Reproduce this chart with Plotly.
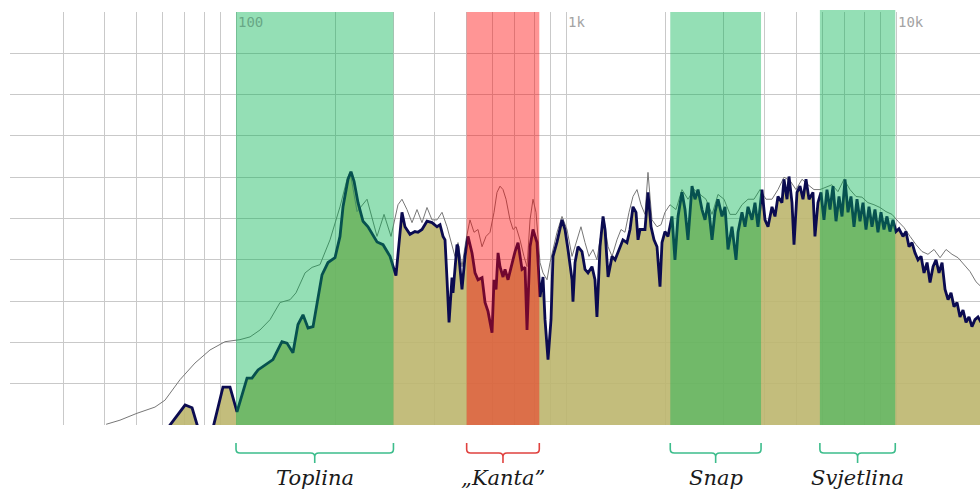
import math
import plotly.graph_objects as go

# Spectrum levels (dB above the floor of the plot) against frequency in Hz
navy_freq = [62.2, 70.1, 73.6, 76.7, 80.6, 83.4, 85.2, 91.3, 95.9, 100.7, 108.0, 111.8, 116.6, 122.4, 129.4,
             137.8, 142.7, 148.8, 154.1, 159.6, 165.3, 171.2, 176.0, 182.2, 190.0, 199.5, 206.6, 211.0, 218.5,
             223.1, 227.9, 234.3, 242.6, 251.2, 267.5, 279.0, 292.9, 305.3, 318.4, 325.1, 336.7, 348.6, 356.0,
             366.1, 379.1, 392.6, 406.6, 415.2, 424.0, 429.9, 436.0, 442.1, 451.4, 454.5, 467.4, 470.7, 484.0,
             494.3, 504.7, 519.0, 530.0, 541.2, 556.6, 568.3, 580.3, 596.8, 605.2, 613.8, 622.4, 631.0, 644.4,
             653.5, 667.3, 686.2, 700.8, 715.5, 735.8, 751.4, 761.9, 778.0, 794.3, 816.8, 834.1, 851.8, 863.8,
             882.1, 900.7, 913.4, 939.3, 972.5, 993.1, 1014, 1043, 1050, 1065, 1087, 1118, 1142, 1166, 1199,
             1224, 1241, 1268, 1295, 1313, 1341, 1379, 1408, 1458, 1488, 1530, 1563, 1596, 1630, 1653, 1676,
             1735, 1772, 1810, 1848, 1887, 1927, 1954, 1995, 2037, 2095, 2139, 2185, 2246, 2294, 2342, 2409,
             2460, 2512, 2583, 2638, 2694, 2770, 2828, 2888, 2970, 3033, 3097, 3184, 3275, 3321, 3414, 3487,
             3561, 3661, 3738, 3817, 3925, 4009, 4094, 4209, 4298, 4389, 4513, 4577, 4674, 4740, 4840, 4908,
             5012, 5118, 5226, 5337, 5450, 5603, 5681, 5801, 5924, 6049, 6177, 6310, 6443, 6580, 6719, 6861,
             7006, 7154, 7305, 7460, 7617, 7778, 7943, 8110, 8282, 8457, 8636, 8818, 9005, 9195, 9389, 9587,
             9792, 10000, 10210, 10500, 10720, 10950, 11180, 11420, 11660, 11910, 12160, 12420, 12680, 12950,
             13220, 13500, 13790, 14080, 14380, 14680, 14990, 15310, 15630, 15960, 16300, 16640, 16990, 17350,
             17720, 18100]
navy_level = [-0.4, 2.9, 2.5, -0.4, -2.9, -2.9, -0.4, 5.5, 5.5, 1.9, 6.8, 6.8, 8.0, 8.7, 9.5,
              12.1, 11.9, 10.5, 14.6, 16.0, 14.1, 14.3, 17.8, 21.8, 23.6, 24.3, 27.4, 31.7, 35.7,
              36.8, 35.4, 32.3, 29.6, 28.8, 26.6, 26.2, 24.5, 21.7, 30.9, 28.8, 27.7, 28.1, 28.0,
              28.4, 29.6, 29.4, 28.8, 29.1, 27.4, 26.9, 21.1, 14.9, 21.4, 19.2, 26.2, 25.9, 19.7,
              24.5, 27.4, 25.0, 22.1, 21.1, 21.4, 17.8, 16.5, 13.4, 21.1, 19.7, 25.0, 23.0, 21.5,
              22.6, 21.1, 23.6, 25.2, 26.5, 22.6, 22.9, 13.8, 25.9, 28.4, 26.5, 18.6, 21.5, 15.3,
              9.5, 15.3, 24.5, 26.6, 29.8, 28.4, 25.5, 21.1, 17.9, 23.6, 25.9, 25.2, 22.6, 22.1, 23.0,
              21.1, 15.7, 25.9, 30.3, 28.4, 21.5, 24.5, 24.0, 25.9, 26.9, 26.5, 28.4, 31.7, 30.9, 26.9, 28.4,
              28.4, 33.8, 28.8, 26.9, 25.9, 20.1, 26.5, 28.1, 27.4, 30.3, 24.0, 30.3, 33.8, 31.3, 26.9, 34.7,
              32.8, 34.2, 31.3, 29.8, 32.3, 26.9, 30.9, 32.8, 30.3, 31.7, 25.5, 28.8, 24.0, 28.0, 30.9, 28.8,
              31.7, 29.8, 32.3, 28.8, 34.2, 29.8, 28.8, 31.7, 30.3, 33.2, 32.3, 35.7, 32.8, 36.1, 32.3, 26.2,
              33.8, 34.7, 32.8, 35.7, 32.8, 33.8, 27.4, 32.3, 33.8, 29.8, 34.2, 31.3, 34.7, 29.6, 33.2, 30.3,
              35.7, 30.9, 33.2, 28.8, 32.8, 29.6, 32.3, 28.4, 31.7, 28.8, 31.3, 28.0, 30.9, 28.4, 30.3, 28.1,
              29.8, 28.1, 28.5, 27.4, 28.1, 25.9, 26.5, 25.0, 24.0, 24.5, 22.1, 23.6, 20.7, 23.0,
              24.0, 22.1, 23.6, 19.7, 18.2, 19.2, 17.2, 17.8, 15.7, 16.7, 14.9, 15.7, 14.3, 15.3,
              15.7, 14.9]

grey_freq = [40.4, 44.5, 50.1, 56.8, 60.9, 67.7, 75.1, 83.4, 92.6, 102.8, 110.3, 118.2, 126.8, 136.0,
             145.8, 152.0, 161.9, 170.0, 179.7, 192.7, 206.6, 217.0, 221.6, 232.7, 249.5, 267.5, 280.9,
             294.9, 309.7, 318.4, 329.7, 341.5, 353.6, 366.1, 379.1, 392.6, 406.6, 421.0, 436.0, 451.4,
             460.8, 470.7, 484.0, 497.7, 511.7, 526.3, 541.2, 556.6, 572.3, 588.6, 605.2, 617.9, 631.0,
             644.4, 658.1, 676.6, 691.2, 705.6, 725.5, 745.8, 761.9, 778.0, 794.3, 811.1, 834.1, 851.8,
             876.0, 894.4, 913.4, 939.3, 972.5, 1007, 1043, 1080, 1110, 1142, 1174, 1207, 1241, 1268, 1304,
             1341, 1379, 1427, 1468, 1509, 1552, 1596, 1641, 1688, 1735, 1772, 1822, 1887, 1941, 1995,
             2066, 2154, 2246, 2342, 2443, 2547, 2656, 2770, 2888, 3012, 3141, 3275, 3414, 3561, 3713,
             3872, 4037, 4209, 4389, 4577, 4774, 4977, 5190, 5412, 5642, 5883, 6135, 6397, 6670, 6955,
             7253, 7563, 7886, 8223, 8576, 8942, 9325, 9724, 10140, 10570, 11030, 11500, 11990, 12500,
             13040, 13600, 14180, 14780, 15420, 16070, 16760, 17480, 18100]
grey_level = [0.1, 0.7, 1.7, 2.6, 3.6, 6.6, 9.0, 10.9, 12.1, 12.4, 12.8, 13.8, 15.3, 17.8,
              18.2, 19.2, 22.1, 22.9, 23.3, 26.9, 31.7, 35.7, 36.8, 31.0, 32.8, 27.4, 30.6,
              27.4, 32.0, 32.8, 31.3, 29.4, 31.3, 29.4, 31.6, 29.8, 29.8, 30.9, 28.8, 25.9,
              24.5, 26.5, 23.0, 26.9, 29.8, 28.0, 28.4, 25.9, 27.4, 28.0, 30.9, 33.8, 34.7,
              34.2, 32.8, 29.8, 28.4, 28.8, 26.9, 24.5, 23.0, 29.8, 32.8, 30.9, 23.6, 22.1,
              21.1, 23.6, 25.5, 28.0, 30.3, 28.4, 24.5, 26.9, 28.8, 26.5, 24.5, 25.5, 24.0, 26.9, 29.8,
              25.9, 24.5, 26.9, 28.4, 28.0, 30.9, 33.2, 34.2, 32.0, 30.6, 36.7, 29.8, 28.8, 29.1, 30.9,
              32.0, 31.3, 34.2, 32.8, 34.2, 33.5, 32.8, 30.6, 33.5, 32.8, 30.6, 30.6, 32.0, 32.8, 32.8,
              34.2, 32.8, 32.8, 34.2, 36.0, 35.5, 34.2, 35.7, 34.9, 34.2, 34.2, 34.5, 34.9, 33.9, 35.7,
              34.2, 33.2, 33.1, 32.3, 32.0, 31.6, 31.0, 30.6, 29.6, 28.7, 27.4, 26.2, 25.2, 24.8,
              25.5, 24.3, 25.5, 24.8, 24.3, 23.3, 22.3, 20.8, 20.1]

# Highlighted frequency bands (Hz)
band_names = ["Toplina", "„Kanta”", "Snap", "Svjetlina"]
band_lo = [100, 500, 2070, 5880]
band_hi = [300, 830, 3900, 9950]
band_kind = ["good", "bad", "good", "good"]

# Frequency ticks and grid
tick_freqs = [100, 1000, 10000]
tick_text = ["100", "1k", "10k"]
grid_freqs = [30, 40, 50, 60, 70, 80, 90,
              100, 200, 300, 400, 500, 600, 700, 800, 900,
              1000, 2000, 3000, 4000, 5000, 6000, 7000, 8000, 9000, 10000]

F_MIN, F_MAX = 20.66, 17970
Y_MIN, Y_MAX = 0, 60

fig = go.Figure()

fig.add_trace(go.Scatter(
    x=navy_freq, y=navy_level, mode="lines", fill="tozeroy",
    fillcolor="rgba(189,182,110,0.9)", line=dict(width=0),
    hoverinfo="skip", showlegend=False))
fig.add_trace(go.Scatter(
    x=grey_freq, y=grey_level, mode="lines",
    line=dict(color="#777777", width=1), showlegend=False))
fig.add_trace(go.Scatter(
    x=navy_freq, y=navy_level, mode="lines",
    line=dict(color="#0b0b50", width=2.8), showlegend=False))

band_fill = {"good": "rgba(0,178,78,0.42)", "bad": "rgba(255,3,3,0.42)"}
bracket_col = {"good": "#3dbd8c", "bad": "#e0423f"}

shapes = []
annotations = []

# Brackets below the plot: paper y for hook top, bar and centre tick
y_top, y_bar, y_tick, r = -0.0436, -0.0678, -0.092, 0.009
for name, lo, hi, kind in zip(band_names, band_lo, band_hi, band_kind):
    shapes.append(dict(type="rect", xref="x", yref="paper", x0=lo, x1=hi,
                       y0=0, y1=1.005 if name == "Svjetlina" else 1,
                       fillcolor=band_fill[kind], line=dict(width=0), layer="above"))
    mid = math.sqrt(lo * hi)
    k = 10 ** (4 / 330)  # about four pixels along the log axis
    path = (f"M {lo},{y_top} L {lo},{y_bar + r} Q {lo},{y_bar} {lo * k},{y_bar} "
            f"L {mid / k},{y_bar} Q {mid},{y_bar} {mid},{y_bar - r} L {mid},{y_tick} "
            f"M {mid},{y_bar - r} Q {mid},{y_bar} {mid * k},{y_bar} "
            f"L {hi / k},{y_bar} Q {hi},{y_bar} {hi},{y_bar + r} L {hi},{y_top}")
    shapes.append(dict(type="path", xref="x", yref="paper", path=path,
                       line=dict(color=bracket_col[kind], width=1.6)))
    annotations.append(dict(x=math.log10(mid), y=-0.128, xref="x", yref="paper",
                            text=name, showarrow=False, xanchor="center", yanchor="middle",
                            font=dict(family="DejaVu Serif", size=21, color="#1a1a1a",
                                      style="italic")))

for f, t in zip(tick_freqs, tick_text):
    annotations.append(dict(x=math.log10(f), y=0.976, xref="x", yref="paper", text=t,
                            showarrow=False, xanchor="left", yanchor="middle", xshift=0,
                            font=dict(family="DejaVu Sans Mono", size=14,
                                      color="#68a786" if f == 100 else "#a3a3a3")))

fig.update_layout(
    width=980, height=496,
    margin=dict(l=10, r=0, t=12, b=71),
    paper_bgcolor="white", plot_bgcolor="white",
    shapes=shapes, annotations=annotations,
    xaxis=dict(type="log", range=[math.log10(F_MIN), math.log10(F_MAX)],
               tickvals=grid_freqs, showticklabels=False, ticks="",
               showgrid=True, gridcolor="#c9c9c9", gridwidth=1.4,
               zeroline=False, showline=False),
    yaxis=dict(range=[Y_MIN, Y_MAX], dtick=6, showticklabels=False, ticks="",
               showgrid=True, gridcolor="#c9c9c9", gridwidth=1.4,
               zeroline=False, showline=False),
)

fig.write_html("out.html")
